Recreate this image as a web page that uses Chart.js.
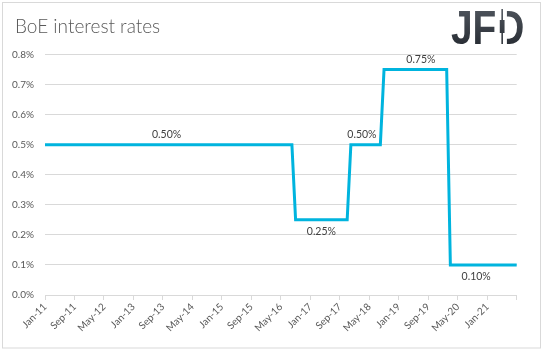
<!DOCTYPE html>
<html>
<head>
<meta charset="utf-8">
<script src="https://cdn.jsdelivr.net/npm/chart.js@4.4.1/dist/chart.umd.min.js"></script>
<style>
html,body{margin:0;padding:0;background:#fff;}
#wrap{position:relative;width:543px;height:351px;}
</style>
</head>
<body>
<div id="wrap"><canvas id="c" width="543" height="351"></canvas></div>
<script>
// ---- data ----
const monthNames = ['Jan','Feb','Mar','Apr','May','Jun','Jul','Aug','Sep','Oct','Nov','Dec'];
const years = ['11','12','13','14','15','16','17','18','19','20','21'];
const lastMonthOf2021 = 9; // data runs to Sep-21

const rateValues = [
  // 2011
  0.5,0.5,0.5,0.5,0.5,0.5,0.5,0.5,0.5,0.5,0.5,0.5,
  // 2012
  0.5,0.5,0.5,0.5,0.5,0.5,0.5,0.5,0.5,0.5,0.5,0.5,
  // 2013
  0.5,0.5,0.5,0.5,0.5,0.5,0.5,0.5,0.5,0.5,0.5,0.5,
  // 2014
  0.5,0.5,0.5,0.5,0.5,0.5,0.5,0.5,0.5,0.5,0.5,0.5,
  // 2015
  0.5,0.5,0.5,0.5,0.5,0.5,0.5,0.5,0.5,0.5,0.5,0.5,
  // 2016
  0.5,0.5,0.5,0.5,0.5,0.5,0.5,0.5,0.25,0.25,0.25,0.25,
  // 2017
  0.25,0.25,0.25,0.25,0.25,0.25,0.25,0.25,0.25,0.25,0.25,0.5,
  // 2018
  0.5,0.5,0.5,0.5,0.5,0.5,0.5,0.5,0.75,0.75,0.75,0.75,
  // 2019
  0.75,0.75,0.75,0.75,0.75,0.75,0.75,0.75,0.75,0.75,0.75,0.75,
  // 2020
  0.75,0.75,0.1,0.1,0.1,0.1,0.1,0.1,0.1,0.1,0.1,0.1,
  // 2021
  0.1,0.1,0.1,0.1,0.1,0.1,0.1,0.1,0.1
];

const yTickValues = [0,0.1,0.2,0.3,0.4,0.5,0.6,0.7,0.8];

// annotated points: category label, text, side
const noteCategories = ['Oct-13','Apr-17','Mar-18','Jul-19','Oct-20'];
const noteTexts = ['0.50%','0.25%','0.50%','0.75%','0.10%'];
const noteSides = ['above','below','above','above','below'];

const titleText = 'BoE interest rates';
const logoText = 'JFD';

// build categories
const categories = [];
years.forEach((y, yi) => {
  const n = (yi === years.length - 1) ? lastMonthOf2021 : 12;
  for (let m = 0; m < n; m++) categories.push(monthNames[m] + '-' + y);
});

const FONT = 'Lato, "Open Sans", sans-serif';

const decor = {
  id: 'decor',
  beforeDraw(chart) {
    const ctx = chart.ctx;
    ctx.save();
    ctx.fillStyle = '#fff';
    ctx.fillRect(0, 0, chart.width, chart.height);
    ctx.strokeStyle = '#d9d9d9';
    ctx.lineWidth = 1;
    ctx.strokeRect(2.5, 2.5, 538, 345.5);
    // title
    ctx.fillStyle = '#595959';
    ctx.font = '300 19px ' + FONT;
    ctx.textBaseline = 'alphabetic';
    ctx.textAlign = 'left';
    ctx.fillText(titleText, 15, 33);
    // logo
    ctx.translate(451, 44);
    ctx.scale(0.81, 1);
    const g = ctx.createLinearGradient(0, -35, 0, 0);
    g.addColorStop(0, '#4d535b');
    g.addColorStop(1, '#2a2f36');
    ctx.fillStyle = g;
    ctx.font = 'bold 48px "Liberation Sans", Arial, sans-serif';
    ctx.fillText(logoText, 0, 0);
    // candlestick replacing the stem of the D
    const wJF = ctx.measureText(logoText.slice(0, 2)).width;
    ctx.fillStyle = '#fff';
    ctx.fillRect(wJF + 1.5, -37, 11.5, 40);
    ctx.fillStyle = g;
    ctx.fillRect(wJF + 6.2, -35, 1.9, 35);
    ctx.fillRect(wJF + 4.2, -24, 5.9, 13);
    ctx.restore();
  },
  afterDatasetsDraw(chart) {
    const ctx = chart.ctx;
    const xs = chart.scales.x, ys = chart.scales.y;
    ctx.save();
    ctx.fillStyle = '#404040';
    ctx.font = '10.5px ' + FONT;
    ctx.textAlign = 'center';
    ctx.textBaseline = 'middle';
    noteCategories.forEach((cat, i) => {
      const idx = categories.indexOf(cat);
      const x = xs.getPixelForValue(idx);
      const y = ys.getPixelForValue(rateValues[idx]);
      const dy = noteSides[i] === 'above' ? -10 : 12;
      ctx.fillText(noteTexts[i], x, y + dy);
    });
    ctx.restore();
  }
};

new Chart(document.getElementById('c'), {
  type: 'line',
  data: {
    labels: categories,
    datasets: [{
      data: rateValues,
      borderColor: '#00b4de',
      borderWidth: 3,
      pointRadius: 0,
      tension: 0,
      fill: false,
      borderJoinStyle: 'miter'
    }]
  },
  options: {
    responsive: false,
    animation: false,
    devicePixelRatio: 1,
    layout: { padding: { left: 0, right: 26.3, top: 54.5, bottom: 0 } },
    plugins: { legend: { display: false }, tooltip: { enabled: false }, title: { display: false } },
    scales: {
      x: {
        type: 'category',
        offset: false,
        afterFit(s) { s.height = 56; },
        grid: { drawOnChartArea: false, drawTicks: true, tickLength: 5, color: '#d9d9d9' },
        border: { display: true, color: '#d9d9d9', width: 1 },
        ticks: {
          autoSkip: false,
          maxRotation: 45,
          minRotation: 45,
          padding: 1,
          color: '#595959',
          font: { family: FONT, size: 10 },
          callback(v, i) {
            if (i % 8 !== 0) return null;
            if (i === categories.length - 1) return '';
            return categories[i];
          }
        }
      },
      y: {
        min: 0,
        max: 0.8,
        afterFit(s) { s.width = 45; },
        afterBuildTicks(s) { s.ticks = yTickValues.map(v => ({ value: v })); },
        grid: { color: '#d9d9d9', drawTicks: false, lineWidth: 1 },
        border: { display: false },
        ticks: {
          padding: 11,
          color: '#595959',
          font: { family: FONT, size: 10 },
          callback(v) { return v.toFixed(1) + '%'; }
        }
      }
    }
  },
  plugins: [decor]
});
</script>
</body>
</html>
